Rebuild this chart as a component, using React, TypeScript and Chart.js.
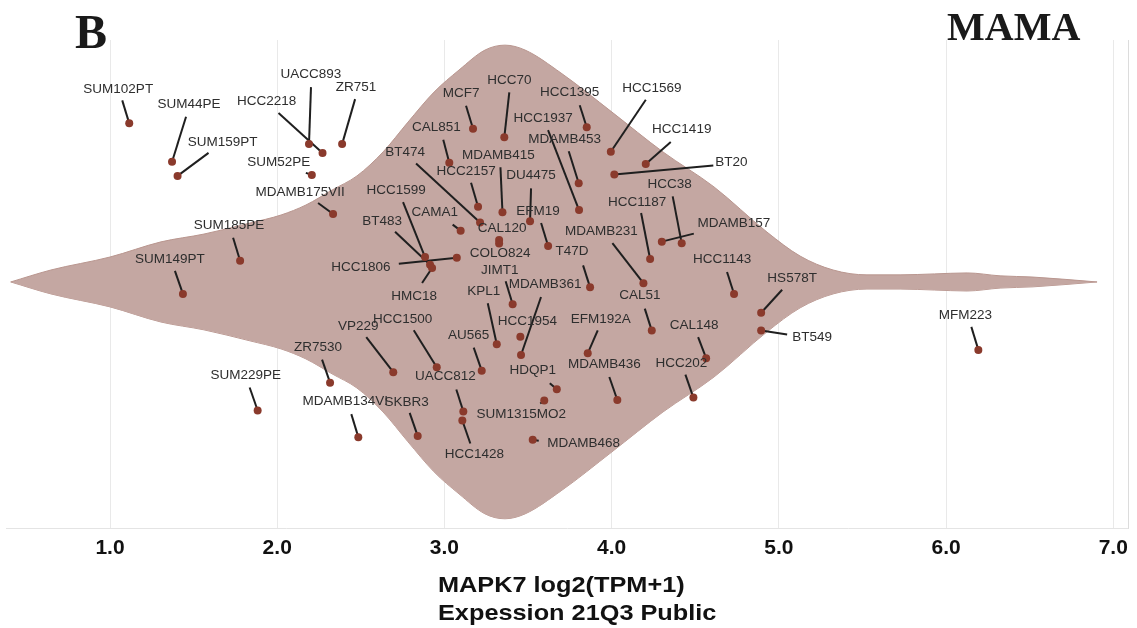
import React, { useEffect, useRef } from "react";
import { Chart, registerables } from "chart.js";

Chart.register(...registerables);

// ---- Data ----
const cellLines = [
  "SUM102PT", "SUM44PE", "SUM159PT", "HCC2218", "UACC893", "ZR751", "SUM52PE", "MDAMB175VII",
  "SUM185PE", "SUM149PT", "SUM229PE", "ZR7530", "MDAMB134VI", "VP229", "HCC1500", "SKBR3",
  "UACC812", "HCC1428", "HCC1599", "BT483", "HCC1806", "HMC18", "CAMA1", "BT474", "CAL851",
  "MCF7", "HCC70", "HCC2157", "MDAMB415", "CAL120", "COLO824", "DU4475", "EFM19", "JIMT1",
  "KPL1", "AU565", "MDAMB361", "HCC1954", "HDQP1", "SUM1315MO2", "MDAMB468", "HCC1395",
  "HCC1937", "MDAMB453", "T47D", "EFM192A", "MDAMB436", "HCC1569", "HCC1419", "BT20",
  "HCC1187", "MDAMB231", "CAL51", "HCC38", "MDAMB157", "HCC1143", "CAL148", "HCC202",
  "HS578T", "BT549", "MFM223",
];

// MAPK7 log2(TPM+1)
const expression = [
  1.115, 1.371, 1.404, 2.271, 2.19, 2.388, 2.207, 2.334,
  1.778, 1.436, 1.883, 2.316, 2.485, 2.694, 2.954, 2.84,
  3.113, 3.107, 2.884, 2.914, 3.074, 2.926, 3.097, 3.213, 3.029,
  3.171, 3.358, 3.201, 3.347, 3.327, 3.327, 3.512, 3.62, 3.408,
  3.313, 3.223, 3.458, 3.454, 3.672, 3.597, 3.528, 3.851,
  3.805, 3.803, 3.871, 3.857, 4.034, 3.995, 4.204, 4.016,
  4.23, 4.19, 4.24, 4.419, 4.3, 4.732, 4.565, 4.489,
  4.894, 4.894, 6.193,
];

// vertical jitter of each point inside the violin
const jitter = [
  0.649, 0.492, 0.434, 0.528, 0.564, 0.564, 0.438, 0.278,
  0.087, -0.049, -0.526, -0.412, -0.635, -0.369, -0.349, -0.63,
  -0.53, -0.567, 0.102, 0.07, 0.099, 0.057, 0.21, 0.243, 0.488,
  0.627, 0.592, 0.308, 0.285, 0.172, 0.157, 0.248, 0.147, -0.091,
  -0.255, -0.363, -0.299, -0.224, -0.439, -0.485, -0.646, 0.633,
  0.294, 0.404, -0.022, -0.292, -0.483, 0.533, 0.483, 0.44,
  0.094, -0.005, -0.199, 0.158, 0.165, -0.049, -0.312, -0.473,
  -0.126, -0.199, -0.278,
];

// violin outline: expression value and half width of the density
const violinX = [
  0.406, 0.647, 1.0, 1.305, 1.562, 1.837, 2.023, 2.172, 2.328, 2.477, 2.633, 2.782,
  2.938, 3.087, 3.243, 3.362, 3.482, 3.697, 4.002, 4.307, 4.612, 4.929, 5.127,
  5.324, 5.527, 5.725, 5.93, 6.126, 6.323, 6.52, 6.903,
];
const violinHalfWidth = [
  0, 0.049, 0.102, 0.164, 0.196, 0.241, 0.274, 0.315, 0.376, 0.434, 0.532, 0.654,
  0.777, 0.867, 0.949, 0.969, 0.949, 0.855, 0.695, 0.532, 0.389, 0.204, 0.106,
  0.049, 0.029, 0.029, 0.033, 0.037, 0.025, 0.02, 0,
];

const xTicks = [1, 2, 3, 4, 5, 6, 7];

const panelLetter = "B";
const panelTitle = "MAMA";
const axisTitle = ["MAPK7 log2(TPM+1)", "Expession 21Q3 Public"];

// ---- Label layout (pixels relative to the dot): [labelDx, labelDy, lineEndDx, lineEndDy] ----
const labelLayout: Record<string, number[]> = {
  SUM102PT: [-11, -34, -7, -23],
  SUM44PE: [17, -57, 14, -45],
  SUM159PT: [45, -34, 31, -23],
  HCC2218: [-56, -52, -44, -40],
  UACC893: [2, -70, 2, -57],
  ZR751: [14, -57, 13, -45],
  SUM52PE: [-33, -13, -6, -2],
  MDAMB175VII: [-33, -22, -15, -11],
  SUM185PE: [-11, -35, -7, -23],
  SUM149PT: [-13, -35, -8, -23],
  SUM229PE: [-12, -35, -8, -23],
  ZR7530: [-12, -35, -8, -23],
  MDAMB134VI: [-13, -36, -7, -23],
  VP229: [-35, -46, -27, -35],
  HCC1500: [-34, -48, -23, -37],
  SKBR3: [-11, -34, -8, -23],
  UACC812: [-18, -35, -7, -22],
  HCC1428: [12, 34, 8, 23],
  HCC1599: [-29, -67, -22, -55],
  BT483: [-48, -44, -35, -33],
  HCC1806: [-96, 10, -58, 6],
  HMC18: [-18, 28, -10, 15],
  CAMA1: [-26, -18, -8, -6],
  BT474: [-75, -70, -64, -59],
  CAL851: [-13, -35, -6, -23],
  MCF7: [-12, -35, -7, -23],
  HCC70: [5, -57, 5, -45],
  HCC2157: [-12, -35, -7, -24],
  MDAMB415: [-4, -57, -2, -45],
  CAL120: [3, -12, 0, 0],
  COLO824: [1, 10, 0, 0],
  DU4475: [1, -46, 1, -33],
  EFM19: [-10, -35, -7, -23],
  JIMT1: [-13, -34, -7, -23],
  KPL1: [-13, -53, -9, -41],
  AU565: [-13, -35, -8, -23],
  MDAMB361: [24, -71, 20, -58],
  HCC1954: [7, -15, 0, 0],
  HDQP1: [-24, -19, -7, -6],
  SUM1315MO2: [-23, 14, -4, 3],
  MDAMB468: [51, 3, 6, 1],
  HCC1395: [-17, -35, -7, -22],
  HCC1937: [-36, -92, -31, -80],
  MDAMB453: [-14, -44, -10, -32],
  T47D: [-18, -36, -7, -22],
  EFM192A: [13, -34, 10, -23],
  MDAMB436: [-13, -36, -8, -23],
  HCC1569: [41, -63, 35, -52],
  HCC1419: [36, -35, 25, -22],
  BT20: [117, -12, 99, -9],
  HCC1187: [-13, -57, -9, -46],
  MDAMB231: [-42, -52, -31, -40],
  CAL51: [-12, -35, -7, -22],
  HCC38: [-12, -59, -9, -47],
  MDAMB157: [72, -18, 32, -8],
  HCC1143: [-12, -35, -7, -22],
  CAL148: [-12, -33, -8, -21],
  HCC202: [-12, -34, -8, -23],
  HS578T: [31, -34, 21, -23],
  BT549: [51, 7, 26, 4],
  MFM223: [-13, -35, -7, -23],
};

const SANS = '"Liberation Sans", Arial, Helvetica, sans-serif';
const SERIF = '"Liberation Serif", "Times New Roman", serif';

const annotatePlugin = {
  id: "annotate",
  beforeDatasetDraw(chart: any, args: any) {
    if (args.index !== 0) return;
    const ctx = chart.ctx;
    const meta = chart.getDatasetMeta(0);
    ctx.save();
    ctx.strokeStyle = "#1f1f1f";
    ctx.lineWidth = 2;
    ctx.lineCap = "butt";
    meta.data.forEach((el: any, i: number) => {
      const lay = labelLayout[cellLines[i]];
      if (!lay || (lay[2] === 0 && lay[3] === 0)) return;
      ctx.beginPath();
      ctx.moveTo(el.x, el.y);
      ctx.lineTo(el.x + lay[2], el.y + lay[3]);
      ctx.stroke();
    });
    ctx.restore();
  },
  afterDatasetsDraw(chart: any) {
    const ctx = chart.ctx;
    const meta = chart.getDatasetMeta(0);
    ctx.save();
    ctx.font = `13.5px ${SANS}`;
    ctx.fillStyle = "#2e2e2e";
    ctx.textAlign = "center";
    ctx.textBaseline = "middle";
    meta.data.forEach((el: any, i: number) => {
      const lay = labelLayout[cellLines[i]] || [0, -20, 0, 0];
      ctx.fillText(cellLines[i], el.x + lay[0], el.y + lay[1]);
    });
    ctx.restore();
  },
  afterDraw(chart: any) {
    const ctx = chart.ctx;
    const area = chart.chartArea;
    ctx.save();
    // right frame line
    ctx.strokeStyle = "#dcdcdc";
    ctx.lineWidth = 1;
    ctx.beginPath();
    ctx.moveTo(area.right + 0.5, area.top);
    ctx.lineTo(area.right + 0.5, area.bottom);
    ctx.stroke();

    // panel letter and title
    ctx.fillStyle = "#1a1a1a";
    ctx.textBaseline = "alphabetic";
    ctx.textAlign = "left";
    ctx.font = `bold 48px ${SERIF}`;
    ctx.fillText(panelLetter, 75, 48);
    ctx.font = `bold 40px ${SERIF}`;
    ctx.fillText(panelTitle, 947, 40);

    // axis title (left aligned, two lines)
    ctx.fillStyle = "#111";
    ctx.font = `bold 22px ${SANS}`;
    ctx.save();
    ctx.translate(438, 0);
    ctx.scale(1.15, 1);
    ctx.fillText(axisTitle[0], 0, 592);
    ctx.fillText(axisTitle[1], 0, 620);
    ctx.restore();
    ctx.restore();
  },
};

export default function App() {
  const canvasRef = useRef<HTMLCanvasElement | null>(null);

  useEffect(() => {
    const canvas = canvasRef.current;
    if (!canvas) return;
    const points = expression.map((x, i) => ({ x, y: jitter[i] }));
    const upper = violinX.map((x, i) => ({ x, y: violinHalfWidth[i] }));
    const lower = violinX.map((x, i) => ({ x, y: -violinHalfWidth[i] }));

    const chart = new Chart(canvas, {
      type: "scatter",
      data: {
        datasets: [
          {
            type: "scatter",
            label: "cell lines",
            data: points,
            backgroundColor: "#8a3a2c",
            borderWidth: 0,
            pointRadius: 4,
            order: 0,
          } as any,
          {
            type: "line",
            label: "violin upper",
            data: upper,
            borderColor: "#b9968f",
            borderWidth: 1,
            backgroundColor: "#c4a7a2",
            pointRadius: 0,
            cubicInterpolationMode: "monotone",
            fill: "+1",
            order: 1,
          } as any,
          {
            type: "line",
            label: "violin lower",
            data: lower,
            borderColor: "#b9968f",
            borderWidth: 1,
            backgroundColor: "#c4a7a2",
            pointRadius: 0,
            cubicInterpolationMode: "monotone",
            fill: false,
            order: 2,
          } as any,
        ],
      },
      options: {
        responsive: false,
        animation: false,
        devicePixelRatio: 1,
        layout: { padding: { top: 40, left: 6, right: 9, bottom: 60 } },
        plugins: {
          legend: { display: false },
          tooltip: { enabled: false },
        },
        scales: {
          x: {
            type: "linear",
            min: 0.378,
            max: 7.088,
            afterBuildTicks: (axis: any) => {
              axis.ticks = xTicks.map((v) => ({ value: v }));
            },
            ticks: {
              autoSkip: false,
              maxRotation: 0,
              padding: 7,
              color: "#111",
              font: { family: SANS, size: 21, weight: "bold" },
              callback: (v: any) => Number(v).toFixed(1),
            },
            grid: {
              color: "#e9e9e9",
              lineWidth: 1,
              drawTicks: false,
            },
            border: { display: true, color: "#e4e4e4" },
          },
          y: {
            type: "linear",
            min: -1.01,
            max: 0.99,
            display: false,
          },
        },
      },
      plugins: [annotatePlugin],
    });
    return () => chart.destroy();
  }, []);

  return (
    <div style={{ position: "absolute", left: 0, top: 0, width: 1137, height: 628, background: "#fff" }}>
      <canvas ref={canvasRef} width={1137} height={628} style={{ display: "block", width: 1137, height: 628 }} />
    </div>
  );
}
